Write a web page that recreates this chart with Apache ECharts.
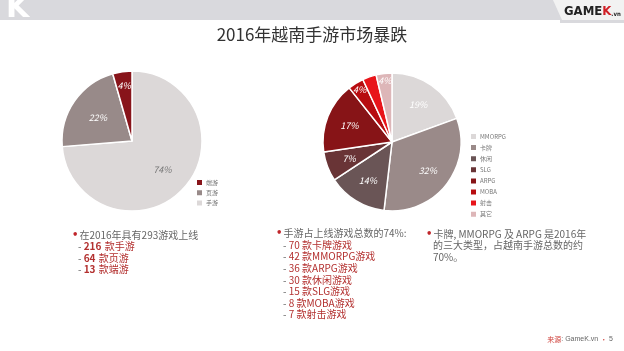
<!DOCTYPE html>
<html><head><meta charset="utf-8">
<script src="https://cdn.jsdelivr.net/npm/echarts@6/dist/echarts.min.js"></script>
<style>html,body{margin:0;padding:0;background:#fff}#c{width:624px;height:351px}</style>
</head><body><div id="c"></div>
<script>
const title = '2016年越南手游市场暴跌';
const leftCats = ['手游', '页游', '端游'];
const leftVals = [216, 64, 13];
const leftColors = ['#dcd8d8', '#988a89', '#88141a'];
const leftLegendOrder = ['端游', '页游', '手游'];
const rightCats = ['MMORPG', '卡牌', '休闲', 'SLG', 'ARPG', 'MOBA', '射击', '其它'];
const rightVals = [42, 70, 30, 15, 36, 8, 7, 8];
const rightColors = ['#dcd8d8', '#9a8a89', '#6a5556', '#693436', '#871417', '#b70c10', '#e8141a', '#ddb6b8'];
const block1Head = '在2016年具有293游戏上线';
const block1Nums = ['216', '64', '13'];
const block1Items = ['款手游', '款页游', '款端游'];
const block2Head = '手游占上线游戏总数的74%:';
const block2Lines = ['70 款卡牌游戏', '42 款MMORPG游戏', '36 款ARPG游戏', '30 款休闲游戏', '15 款SLG游戏', '8 款MOBA游戏', '7 款射击游戏'];
const block3Lines = ['卡牌, MMORPG 及 ARPG 是2016年', '的三大类型，占越南手游总数的约', '70%。'];

const FONT = '"Noto Sans CJK SC", "Noto Sans", sans-serif';
const RED = '#b3302f';
const GRAY = '#666';

function labelOffsets(vals, radius, baseFrac, smallFrac) {
  const total = vals.reduce((a, b) => a + b, 0);
  let acc = 0;
  return vals.map(v => {
    const mid = (acc + v / 2) / total * Math.PI * 2; acc += v;
    const frac = v / total < 0.05 ? smallFrac : baseFrac;
    const extra = (frac - 0.5) * radius;
    return [Math.sin(mid) * extra, -Math.cos(mid) * extra];
  });
}
const leftOff = labelOffsets(leftVals, 70, 0.55, 0.76);
const rightOff = labelOffsets(rightVals, 69, 0.62, 0.85);

const chart = echarts.init(document.getElementById('c'));
const graphics = [];
graphics.push({type: 'rect', shape: {x: 0, y: 0, width: 624, height: 20}, style: {fill: '#d9d9dd'}, z: 1});
graphics.push({type: 'text', style: {text: 'K', x: 6, y: -6, font: 'bold 30px "DejaVu Sans"', fill: '#fff'}, z: 2});
graphics.push({type: 'rect', shape: {x: 0, y: 20, width: 18, height: 14}, style: {fill: '#fff'}, z: 3});
graphics.push({type: 'polygon', shape: {points: [[553, 0], [624, 0], [624, 20], [562, 20]]}, style: {fill: '#f2f2f2'}, z: 2});
graphics.push({type: 'rect', shape: {x: 560, y: 20, width: 64, height: 3}, style: {fill: '#d9d9dd'}, z: 2});
graphics.push({type: 'text', style: {text: '{a|GAME}{b|K}{c|.vn}', x: 564, y: 12, textVerticalAlign: 'middle',
  rich: {a: {font: 'bold 13px "Liberation Sans Narrow", "DejaVu Sans Condensed", sans-serif', fill: '#222'},
         b: {font: 'bold 13px "Liberation Sans Narrow", "DejaVu Sans Condensed", sans-serif', fill: '#d01f26'},
         c: {font: 'bold 6px "DejaVu Sans Condensed", sans-serif', fill: '#222', padding: [5, 0, 0, 0]}}}, z: 3});
graphics.push({type: 'text', style: {text: title, x: 312, y: 35, textAlign: 'center', textVerticalAlign: 'middle', font: '17px ' + FONT, fill: '#333'}});

const bulletRich = {r: {fill: '#c0252a', font: 'bold 10px "DejaVu Sans"', padding: [0, 1, 0, 0]}, g: {fill: GRAY, font: '10px ' + FONT}};
const lh = 11.6;
graphics.push({type: 'text', style: {text: '{r|•}{g|' + block1Head + '}', x: 72, y: 235, textVerticalAlign: 'middle', rich: bulletRich}});
block1Nums.forEach((n, i) => {
  graphics.push({type: 'text', style: {text: '{g|- }{b|' + n + '} {r|' + block1Items[i] + '}', x: 78, y: 246.5 + i * lh, textVerticalAlign: 'middle',
    rich: {g: {fill: GRAY, font: '10px ' + FONT}, b: {fill: RED, font: 'bold 10px ' + FONT}, r: {fill: RED, font: '10px ' + FONT}}}});
});
graphics.push({type: 'text', style: {text: '{r|•}{g|' + block2Head + '}', x: 276, y: 233, textVerticalAlign: 'middle', rich: bulletRich}});
block2Lines.forEach((t, i) => {
  graphics.push({type: 'text', style: {text: '{g|- }{r|' + t + '}', x: 283, y: 245 + i * lh, textVerticalAlign: 'middle',
    rich: {g: {fill: GRAY, font: '10px ' + FONT}, r: {fill: RED, font: '10px ' + FONT}}}});
});
block3Lines.forEach((t, i) => {
  graphics.push({type: 'text', style: {text: (i === 0 ? '{r|•}' : '') + '{g|' + t + '}', x: i === 0 ? 426 : 433, y: 234 + i * lh, textVerticalAlign: 'middle', rich: bulletRich}});
});
graphics.push({type: 'text', style: {text: '{r|来源}{g|: GameK.vn }{r|•}{g| 5}', x: 613, y: 339, textAlign: 'right', textVerticalAlign: 'middle',
  rich: {r: {fill: '#d0453f', font: '7px ' + FONT}, g: {fill: '#666', font: '7px "Liberation Sans Narrow", sans-serif'}}}});

const labelStyle = {show: true, position: 'inside', formatter: '{d}%', fontSize: 9, fontFamily: FONT, color: '#fff', fontStyle: 'italic'};

chart.setOption({
  animation: false,
  legend: [
    {data: leftLegendOrder, orient: 'vertical', left: 195, top: 178, itemWidth: 7, itemHeight: 7, itemGap: 1.2, icon: 'rect',
      textStyle: {fontSize: 6, color: '#777', fontFamily: FONT, padding: [0, 0, 0, -2]}, padding: 0, selectedMode: false},
    {data: rightCats, orient: 'vertical', left: 469, top: 132, itemWidth: 7, itemHeight: 7, itemGap: 2.1, icon: 'rect',
      textStyle: {fontSize: 6, color: '#777', fontFamily: FONT, padding: [0, 0, 0, -2]}, padding: 0, selectedMode: false}
  ],
  series: [
    {type: 'pie', center: [132, 141], radius: [0, 70], startAngle: 90, percentPrecision: 0,
      itemStyle: {borderColor: '#fff', borderWidth: 1.5},
      label: labelStyle, labelLine: {show: false}, emphasis: {disabled: true},
      data: leftCats.map((c, i) => ({name: c, value: leftVals[i], itemStyle: {color: leftColors[i]},
        label: i === 0 ? {color: '#777', offset: leftOff[i]} : {offset: leftOff[i]}}))},
    {type: 'pie', center: [392, 142], radius: [0, 69], startAngle: 90, percentPrecision: 0,
      itemStyle: {borderColor: '#fff', borderWidth: 1.5},
      label: labelStyle, labelLine: {show: false}, emphasis: {disabled: true},
      data: rightCats.map((c, i) => ({name: c, value: rightVals[i], itemStyle: {color: rightColors[i]}, label: {offset: rightOff[i]}}))}
  ],
  graphic: graphics
});
</script></body></html>
